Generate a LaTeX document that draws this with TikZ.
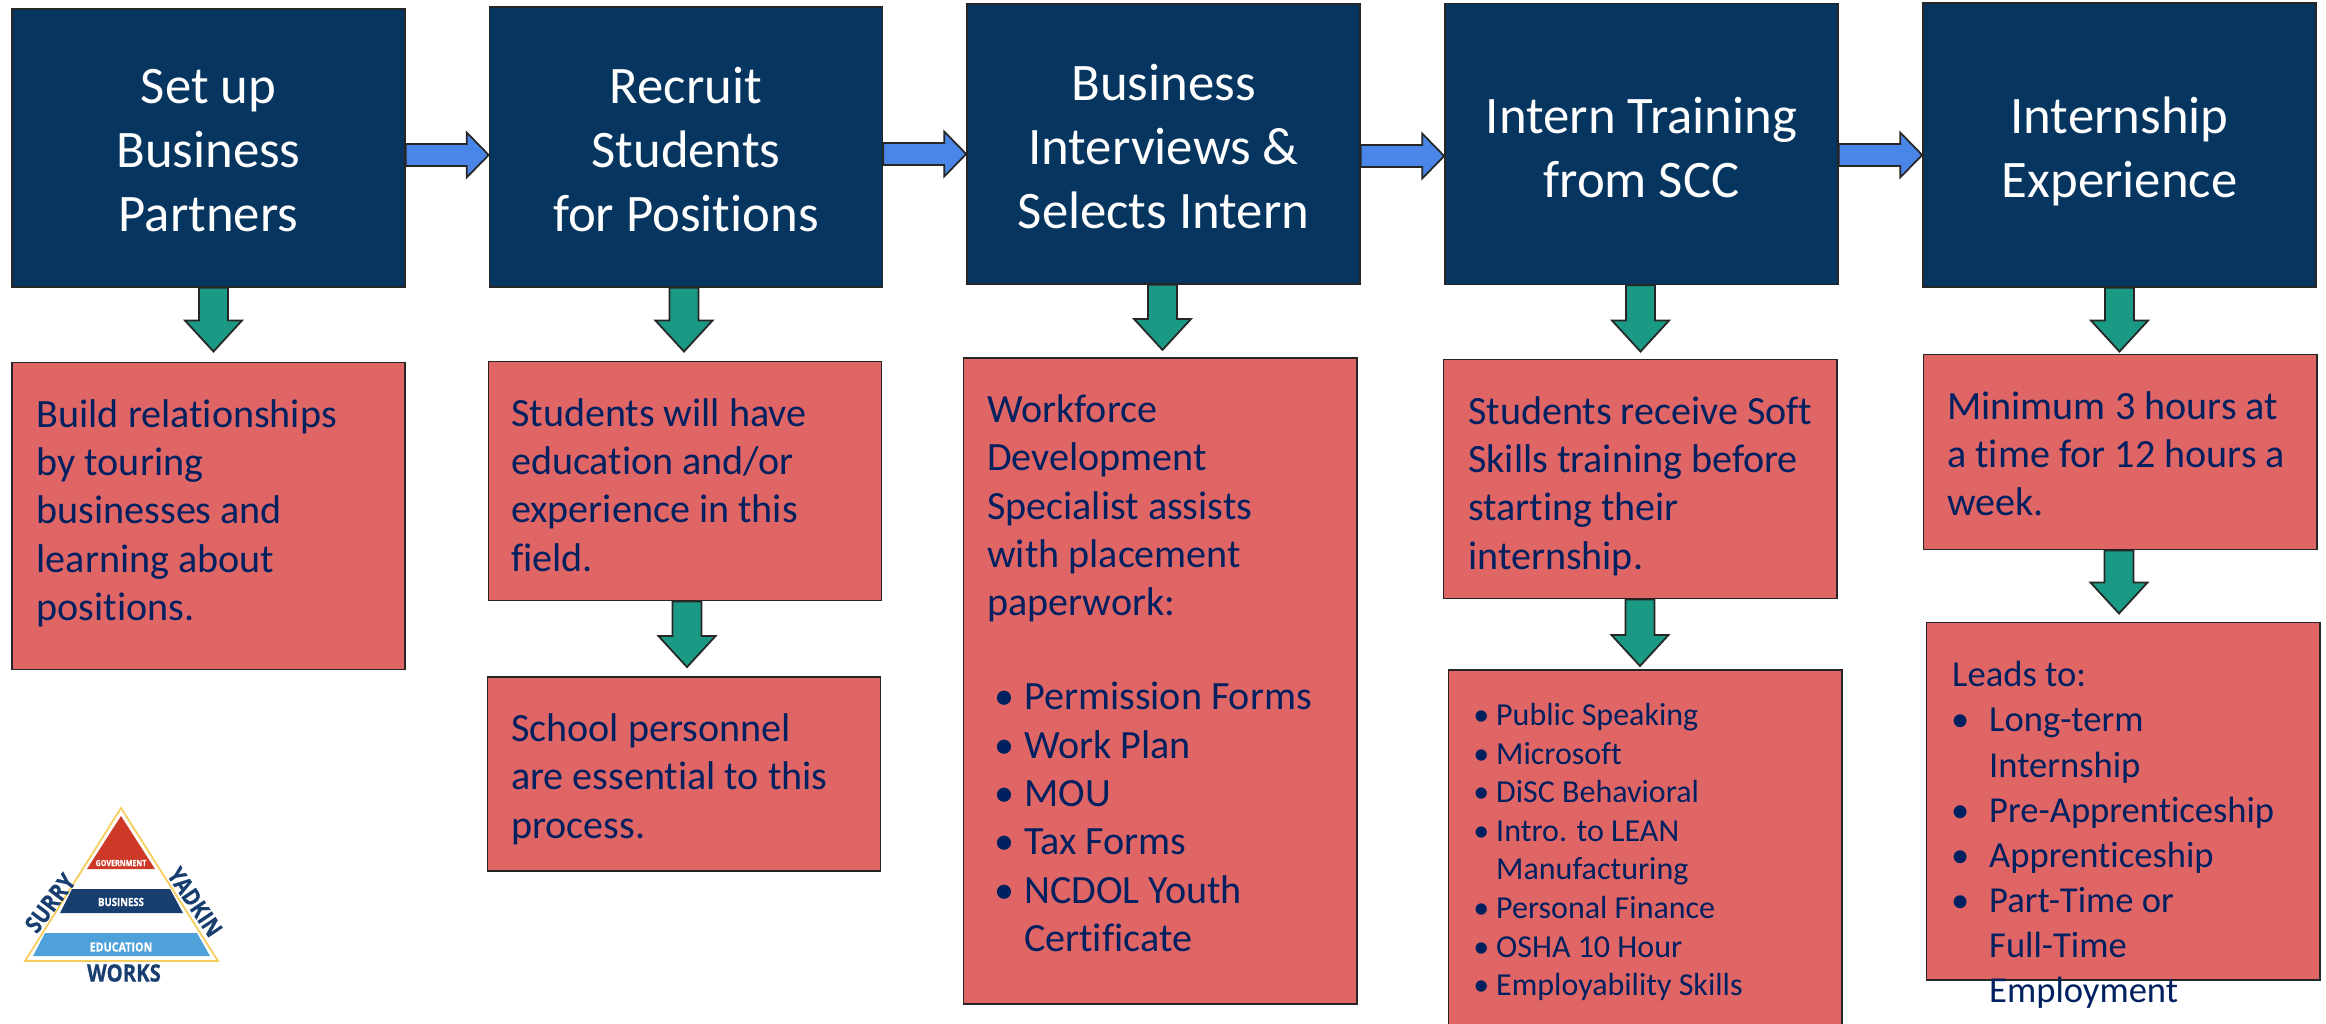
\documentclass[tikz,border=0pt]{standalone}
\usepackage{fontspec}
\setmainfont[Ligatures=CommonOff]{Carlito}
\newfontfamily\logofont[BoldFeatures={FakeStretch=0.85,FakeBold=0.6}]{Open Sans}
\usetikzlibrary{calc}
\newlength{\bulindent}
\newlength{\bulgap}
\newcommand{\bul}[1]{\makebox[\bulindent][r]{\textbullet\hspace{\bulgap}}#1}
\newcommand{\ind}[1]{\hspace*{\bulindent}#1}
\begin{document}
\begin{tikzpicture}[x=0.01cm,y=-0.01cm,
    headbox/.style={draw=black!85,line width=0.4pt,fill=headcolor,minimum width=3.93cm,inner sep=0pt},
    headtext/.style={text=white,align=center,inner sep=0pt,font=\fontsize{15}{18.2}\selectfont},
    notebox/.style={draw=black!85,line width=0.5pt,fill=notecolor,minimum width=3.93cm,inner sep=0pt},
    notetext/.style={anchor=north west,align=left,inner sep=0pt,text=textcolor,font=\fontsize{11.4}{13.75}\selectfont},
    flowarrow/.style={draw=black!85,line width=0.5pt,fill=flowcolor,to path={
      let \p1=(\tikztostart),\p2=(\tikztotarget) in
      (\x1,\y1+0.11cm) -- (\x2-0.22cm,\y1+0.11cm) -- (\x2-0.22cm,\y1+0.225cm) -- (\x2,\y1)
      -- (\x2-0.22cm,\y1-0.225cm) -- (\x2-0.22cm,\y1-0.11cm) -- (\x1,\y1-0.11cm) -- cycle}},
    downarrow/.style={draw=black!85,line width=0.5pt,fill=downcolor,to path={
      let \p1=(\tikztostart),\p2=(\tikztotarget) in
      (\x1-0.145cm,\y1) -- (\x1-0.145cm,\y2+0.31cm) -- (\x1-0.285cm,\y2+0.31cm) -- (\x1,\y2)
      -- (\x1+0.285cm,\y2+0.31cm) -- (\x1+0.145cm,\y2+0.31cm) -- (\x1+0.145cm,\y1) -- cycle}},
    logotext/.style={inner sep=0pt,font=\logofont\bfseries}]
  % Define colors
  \definecolor{headcolor}{RGB}{6,53,96}
  \definecolor{notecolor}{RGB}{224,102,102}
  \definecolor{textcolor}{RGB}{0,32,96}
  \definecolor{flowcolor}{RGB}{74,134,232}
  \definecolor{downcolor}{RGB}{26,154,133}
  \definecolor{goldcolor}{RGB}{246,205,90}
  \definecolor{redcolor}{RGB}{206,56,38}
  \definecolor{navycolor}{RGB}{24,62,112}
  \definecolor{skycolor}{RGB}{78,162,217}

  \useasboundingbox (0,0) rectangle (2326,1023);

  % Step boxes
  \node[headbox,minimum height=2.78cm] (setup) at (208.5,148) {};
  \node[headbox,minimum height=2.80cm] (recruit) at (686,147) {};
  \node[headbox,minimum height=2.80cm] (interview) at (1163.5,144) {};
  \node[headbox,minimum height=2.81cm] (training) at (1641.5,144) {};
  \node[headbox,minimum height=2.84cm] (experience) at (2119.5,145) {};

  % Step texts
  \node[headtext] (setuptext) at ([yshift=-0.03cm]setup.center) {Set up\\Business\\Partners};
  \node[headtext] (recruittext) at ([yshift=-0.03cm]recruit.center) {Recruit\\Students\\for Positions};
  \node[headtext] (interviewtext) at ([yshift=-0.03cm]interview.center) {Business\\Interviews \&\\Selects Intern};
  \node[headtext] (trainingtext) at ([yshift=-0.04cm]training.center) {Intern Training\\from SCC};
  \node[headtext] (experiencetext) at ([yshift=-0.06cm]experience.center) {Internship\\Experience};

  % Note boxes
  \node[notebox,minimum height=3.07cm] (build) at (208.5,516) {};
  \node[notebox,minimum height=2.39cm] (students) at (685,481) {};
  \node[notebox,minimum height=1.94cm] (school) at (684,774) {};
  \node[notebox,minimum height=6.46cm] (workforce) at (1160,681) {};
  \node[notebox,minimum height=2.39cm] (soft) at (1640,479) {};
  \node[notebox,minimum height=3.70cm] (topics) at (1645,855) {};
  \node[notebox,minimum height=1.95cm] (minimum) at (2120,452) {};
  \node[notebox,minimum height=3.57cm] (leads) at (2123,801) {};

  % Note texts
  \node[notetext] (buildtext) at ([shift={(25,37)}]build.north west)
    {Build relationships\\by touring\\businesses and\\learning about\\positions.};
  \node[notetext] (studentstext) at ([shift={(23,37)}]students.north west)
    {Students will have\\education and/or\\experience in this\\field.};
  \node[notetext] (schooltext) at ([shift={(24,37)}]school.north west)
    {School personnel\\are essential to this\\process.};
  \setlength{\bulindent}{0.37cm}
  \setlength{\bulgap}{0.1cm}
  \node[notetext] (workforcetext) at ([shift={(24,37)}]workforce.north west)
    {Workforce\\Development\\Specialist assists\\with placement\\paperwork:\\[0.94\baselineskip]
     \bul{Permission Forms}\\\bul{Work Plan}\\\bul{MOU}\\\bul{Tax Forms}\\\bul{NCDOL Youth}\\\ind{Certificate}};
  \node[notetext] (softtext) at ([shift={(25,37)}]soft.north west)
    {Students receive Soft\\Skills training before\\starting their\\internship.};
  \setlength{\bulindent}{0.19cm}
  \setlength{\bulgap}{0.07cm}
  \node[notetext,font=\fontsize{9.1}{10.95}\selectfont] (topicstext) at ([shift={(29,34)}]topics.north west)
    {\bul{Public Speaking}\\\bul{Microsoft}\\\bul{DiSC Behavioral}\\\bul{Intro. to LEAN}\\\ind{Manufacturing}\\
     \bul{Personal Finance}\\\bul{OSHA 10 Hour}\\\bul{Employability Skills}};
  \node[notetext] (minimumtext) at ([shift={(24,37)}]minimum.north west)
    {Minimum 3 hours at\\a time for 12 hours a\\week.};
  \setlength{\bulindent}{0.37cm}
  \setlength{\bulgap}{0.2cm}
  \node[notetext,font=\fontsize{10.4}{12.85}\selectfont] (leadstext) at ([shift={(26,39)}]leads.north west)
    {Leads to:\\\bul{Long-term}\\\ind{Internship}\\\bul{Pre-Apprenticeship}\\\bul{Apprenticeship}\\
     \bul{Part-Time or}\\\ind{Full-Time}\\\ind{Employment}};

  % Arrows along the top
  \foreach \a/\b/\s in {setup/recruit/-7,recruit/interview/-7,interview/training/-12,training/experience/-11} {
    \draw[flowarrow] ([yshift=\s*0.01cm]\a.east) to (\b.west);
  }

  % Arrows going down
  \foreach \a/\b/\x/\y in {setup/build/5/10,recruit/students/-2/9,students/school/2/9,
      interview/workforce/-1/7,training/soft/-1/7,soft/topics/0/3,experience/minimum/0/2,minimum/leads/-1/8} {
    \draw[downarrow] ([xshift=\x*0.01cm]\a.south) to ([yshift=\y*0.01cm]\b.north);
  }

  % Logo
  \draw[goldcolor,line width=0.5pt,fill=white] (121,808) -- (218,961) -- (25,961) -- cycle;
  \fill[redcolor] (121,816) -- (155,869) -- (87,869) -- cycle;
  \fill[navycolor] (72,889) -- (170,889) -- (183,913) -- (60,913) -- cycle;
  \fill[skycolor] (45,933) -- (197,933) -- (210,956) -- (33,956) -- cycle;
  \node[logotext,white,font=\logofont\bfseries\fontsize{2.4}{3}\selectfont] (gov) at (121,863) {GOVERNMENT};
  \node[logotext,white,font=\logofont\bfseries\fontsize{3.2}{4}\selectfont] (bus) at (121,902) {BUSINESS};
  \node[logotext,white,font=\logofont\bfseries\fontsize{3.6}{5}\selectfont] (edu) at (121,947) {EDUCATION};
  \node[logotext,navycolor,font=\logofont\bfseries\fontsize{6.8}{8}\selectfont] (works) at (124,973) {WORKS};
  \node[logotext,navycolor,rotate=53,font=\logofont\bfseries\fontsize{6.8}{8}\selectfont] (surry) at (50,903) {SURRY};
  \node[logotext,navycolor,rotate=-56,font=\logofont\bfseries\fontsize{6.8}{8}\selectfont] (yadkin) at (195,902) {YADKIN};
\end{tikzpicture}
\end{document}
